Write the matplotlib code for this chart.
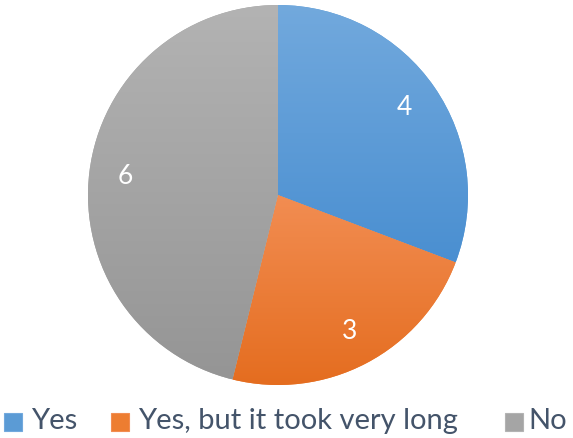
import numpy as np
import matplotlib.pyplot as plt
from matplotlib.patches import Rectangle
from matplotlib.colors import LinearSegmentedColormap

plt.rcParams['font.family'] = ['Lato', 'DejaVu Sans']

answers = ['Yes', 'Yes, but it took very long', 'No']
counts = [4, 3, 6]
# top / bottom shade of each slice
tops = ['#72a9dd', '#f28d52', '#b3b3b3']
bottoms = ['#4a8fd1', '#e46c1e', '#959595']
mids = ['#5b9bd5', '#ed7d31', '#a5a5a5']

W, H = 573, 438
fig = plt.figure(figsize=(W/100, H/100), dpi=100)
ax = fig.add_axes([88/W, 53/H, 380/W, 380/H])

wedges, texts = ax.pie(counts, colors=mids, startangle=90, counterclock=False,
                       radius=1, labels=[str(c) for c in counts], labeldistance=0.81,
                       wedgeprops=dict(linewidth=0),
                       textprops=dict(color='white', fontsize=19, ha='center', va='center'))

# vertical gradient inside each slice
for w, top, bot in zip(wedges, tops, bottoms):
    verts = w.get_patch_transform().transform(w.get_path().vertices)
    y0, y1 = verts[:, 1].min(), verts[:, 1].max()
    cmap = LinearSegmentedColormap.from_list('g', [bot, top])
    grad = np.linspace(0, 1, 256).reshape(-1, 1)
    im = ax.imshow(grad, cmap=cmap, extent=[-1.05, 1.05, y0, y1], origin='lower',
                   aspect='auto', zorder=w.get_zorder(), interpolation='bilinear')
    im.set_clip_path(w)
for t in texts:
    t.set_zorder(5)

ax.set_xlim(-1, 1)
ax.set_ylim(-1, 1)
ax.set_aspect('equal')
ax.axis('off')

# legend row along the bottom
box_x = [4, 111, 505]
text_x = [31, 138, 528]
for bx, tx, c, top, lab in zip(box_x, text_x, mids, tops, answers):
    fig.patches.append(Rectangle((bx/W, 1 - 431/H), 18/W, 18/H, transform=fig.transFigure,
                                 facecolor=c, edgecolor=top, linewidth=0.8))
    fig.text(tx/W, 1 - 421/H, lab, fontsize=21, color='#44546a', ha='left', va='center')

fig.savefig('out.png', dpi=100)
